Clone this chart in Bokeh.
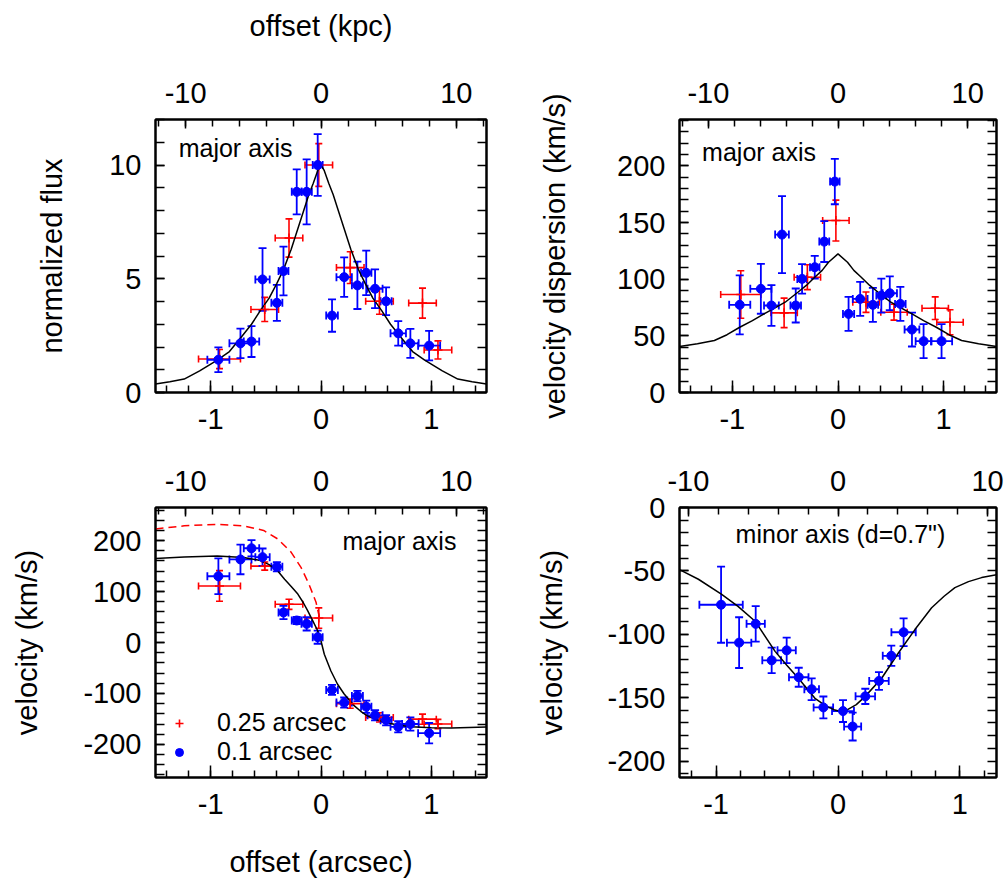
import numpy as np
from bokeh.plotting import figure
from bokeh.models import (Range1d, LinearAxis, SingleIntervalTicker, FixedTicker, Whisker,
                          TeeHead, ColumnDataSource, Label, Legend, LegendItem,
                          PrintfTickFormatter)
from bokeh.layouts import column, row
from bokeh.embed import file_html
from bokeh.resources import INLINE

KPC_PER_ARCSEC = 8.15
FONT = "Liberation Sans"
RED = "#ff0000"
BLUE = "#0000ff"

# ---------------- shared slit positions (arcsec) ----------------
blue_x = [-0.93, -0.73, -0.63, -0.53, -0.40, -0.34, -0.22, -0.13, -0.03,
          0.10, 0.21, 0.33, 0.41, 0.49, 0.59, 0.70, 0.81, 0.98]
blue_xerr = [0.1, 0.1, 0.07, 0.065, 0.05, 0.045, 0.045, 0.047, 0.045,
             0.053, 0.07, 0.05, 0.047, 0.068, 0.05, 0.07, 0.075, 0.1]
red_x = [-0.92, -0.51, -0.29, -0.02, 0.265, 0.53, 0.92, 1.06]
red_xerr = [0.19, 0.125, 0.125, 0.125, 0.125, 0.125, 0.125, 0.125]

# ---------------- panel 1: normalized flux ----------------
flux_blue = [1.44, 2.16, 2.24, 4.97, 3.94, 5.34, 8.82, 8.82, 10.0,
             3.38, 5.07, 4.71, 5.26, 4.56, 4.01, 2.6, 2.16, 2.06]
flux_blue_err = [0.54, 0.65, 0.68, 1.38, 0.79, 1.07, 0.99, 1.43, 1.36,
                 0.71, 0.87, 1.04, 0.98, 0.85, 0.61, 0.54, 0.64, 0.65]
flux_red = [1.47, 3.65, 6.79, 10.0, 5.49, 4.01, 3.93, 1.87]
flux_red_err = [0.42, 0.53, 0.84, 0.94, 0.7, 0.57, 0.66, 0.4]
flux_model_x = [-1.5, -1.37, -1.24, -1.1, -0.94, -0.83, -0.72, -0.63, -0.55, -0.47, -0.4,
                -0.34, -0.27, -0.21, -0.15, -0.11, -0.07, -0.03, 0.0, 0.03, 0.07, 0.11,
                0.15, 0.21, 0.27, 0.34, 0.4, 0.47, 0.55, 0.63, 0.72, 0.83, 0.94, 1.1,
                1.24, 1.37, 1.5]
flux_model_y = [0.37, 0.47, 0.59, 0.95, 1.42, 1.8, 2.45, 3.0, 3.6, 4.15, 4.8,
                5.4, 6.3, 7.2, 8.1, 8.7, 9.2, 9.75, 10.0, 9.75, 9.2, 8.7,
                8.1, 7.2, 6.3, 5.4, 4.8, 4.15, 3.6, 3.0, 2.45, 1.8, 1.42, 0.95,
                0.59, 0.47, 0.37]

# ---------------- panel 2: velocity dispersion ----------------
disp_blue = [77.4, 91.5, 76.8, 139.4, 76.8, 100.3, 110.6, 133.2, 186.2,
             69.4, 82.6, 77.4, 85.6, 87.6, 78.2, 55.6, 45.3, 45.3]
disp_blue_err = [26, 22, 18, 34, 15, 13, 10, 18, 20,
                 15, 15, 15, 15, 15, 15, 15, 15, 15]
disp_red = [86.5, 70.3, 101.8, 151.8, 79.7, 70.9, 74.4, 62]
disp_red_err = [21, 13, 11, 18, 9, 7, 10, 11]
disp_model_x = [-1.5, -1.33, -1.17, -1.05, -0.93, -0.81, -0.7, -0.6, -0.5, -0.38, -0.3,
                -0.22, -0.15, -0.09, 0.0, 0.09, 0.15, 0.22, 0.3, 0.38, 0.5, 0.6, 0.7,
                0.81, 0.93, 1.05, 1.17, 1.33, 1.5]
disp_model_y = [40.6, 43.0, 45.9, 51.0, 57.6, 63.5, 69.4, 74.5, 79.7, 88.5, 94.5,
                101.8, 107.8, 115, 122.4, 115, 107.8, 101.8, 94.5, 88.5, 79.7, 74.5, 69.4,
                63.5, 57.6, 51.0, 45.9, 43.0, 40.6]

# ---------------- panel 3: velocity, major axis ----------------
vel_blue = [130, 163, 185, 167.5, 148.6, 59, 43.2, 36.6, 10.5,
            -93, -118, -105, -126, -143, -152.5, -165.6, -160, -178]
vel_blue_err = [35, 29, 16, 17, 9, 13, 7, 13, 13, 10, 10, 10, 12, 10, 10, 11, 13, 20]
vel_red = [111, 150, 75, 48, -120, -147, -150.5, -160]
vel_red_err = [30, 8, 10, 20, 9, 9, 10, 9]
vel_model_x = [-1.5, -1.24, -0.94, -0.7, -0.55, -0.47, -0.39, -0.33, -0.27, -0.21, -0.16,
               -0.12, -0.08, -0.03, 0.0, 0.03, 0.09, 0.15, 0.21, 0.3, 0.36, 0.42, 0.5,
               0.58, 0.7, 0.82, 1.0, 1.18, 1.5]
vel_model_y = [165, 168, 170, 167, 161, 153, 140, 124, 110, 95, 78,
               62, 45, 23, 3, -23, -56, -82, -101, -124, -135, -144, -151,
               -157, -162, -165.6, -167.5, -168, -166]
vel_intr_x = [-1.5, -1.24, -0.94, -0.7, -0.52, -0.39, -0.27, -0.18, -0.11, -0.045, -0.015]
vel_intr_y = [223, 229, 232, 229, 220, 203, 177, 147, 115, 79, 50]

# ---------------- panel 4: velocity, minor axis ----------------
min_x = [-0.959, -0.811, -0.675, -0.544, -0.421, -0.322, -0.216, -0.12, 0.041,
         0.12, 0.224, 0.336, 0.437, 0.538]
min_xerr = [0.178, 0.1, 0.075, 0.077, 0.075, 0.08, 0.06, 0.08, 0.09,
            0.07, 0.08, 0.08, 0.07, 0.1]
min_v = [-76.7, -106.6, -91.8, -120.6, -112.7, -133.9, -143.4, -157.7, -160.6,
         -172.8, -149, -136.8, -117, -98.4]
min_v_err = [30, 20, 14, 10, 10, 7.5, 8.6, 8.6, 8.6, 11, 6, 7, 8, 11]
min_model_x = [-1.3, -1.145, -0.954, -0.82, -0.68, -0.516, -0.42, -0.325, -0.189, -0.1,
               -0.025, 0.02, 0.071, 0.15, 0.221, 0.358, 0.495, 0.631, 0.768, 0.87,
               0.959, 1.07, 1.178, 1.3]
min_model_y = [-49.0, -56.6, -68.5, -78.0, -89.7, -113.5, -124.5, -134.7, -150.5, -156.5,
               -159.8, -161, -159.8, -155.5, -149.2, -134.7, -114.8, -96.3, -79.1, -70.0,
               -63.2, -58.5, -55.3, -53.0]


def style_axis(ax, interval, tick_in=9, minor_in=9, labels=True, standoff=12):
    if labels:
        ax.ticker = SingleIntervalTicker(interval=interval, num_minor_ticks=5)
        ax.formatter = PrintfTickFormatter(format="%d")
        ax.major_label_text_font_size = "29px"
        ax.major_label_standoff = standoff
    ax.major_tick_in = tick_in
    ax.major_tick_out = 0
    ax.minor_tick_in = minor_in
    ax.minor_tick_out = 0
    ax.axis_line_width = 2
    ax.axis_line_color = "black"
    ax.major_tick_line_width = 1.5
    ax.minor_tick_line_width = 1.5
    ax.major_tick_line_color = "black"
    ax.minor_tick_line_color = "black"
    ax.major_label_text_font = FONT
    ax.major_label_text_color = "black"
    ax.axis_label_text_font = FONT
    ax.axis_label_text_font_style = "normal"
    ax.axis_label_text_font_size = "29px"
    ax.axis_label_text_color = "black"


def build(xr, yr, y_int, y_minor, frame_w, frame_h, borders, ylabel, top_standoff,
          bottom_standoff, xlabel=None, toplabel=None, ylab_standoff=37):
    bl, br, bt, bb = borders
    p = figure(frame_width=frame_w, frame_height=frame_h,
               x_range=Range1d(*xr), y_range=Range1d(*yr),
               output_backend="svg", toolbar_location=None,
               min_border_left=bl, min_border_right=br,
               min_border_top=bt, min_border_bottom=bb)
    p.extra_x_ranges = {"kpc": Range1d(xr[0] * KPC_PER_ARCSEC, xr[1] * KPC_PER_ARCSEC)}
    p.xgrid.visible = False
    p.ygrid.visible = False
    p.outline_line_color = "black"
    p.outline_line_width = 2
    p.background_fill_color = None
    p.border_fill_color = None
    bottom = p.xaxis[0]
    left = p.yaxis[0]
    top = LinearAxis(x_range_name="kpc")
    p.add_layout(top, "above")
    right_ticks = np.arange(np.ceil(yr[0] / y_minor) * y_minor, yr[1] + 1e-9, y_minor)
    right = LinearAxis(ticker=FixedTicker(ticks=[], minor_ticks=right_ticks.tolist()))
    p.add_layout(right, "right")
    style_axis(bottom, 1, tick_in=12, minor_in=7, standoff=bottom_standoff)
    style_axis(top, 10, tick_in=9, minor_in=7, standoff=top_standoff)
    style_axis(left, y_int, standoff=14)
    style_axis(right, y_int, labels=False)
    left.axis_label = ylabel
    left.axis_label_standoff = ylab_standoff
    if xlabel:
        bottom.axis_label = xlabel
        bottom.axis_label_standoff = 29
    if toplabel:
        top.axis_label = toplabel
        top.axis_label_standoff = 38
    return p


def add_errors(p, x, y, xerr, yerr, color, lw, cap):
    x = np.array(x, float); y = np.array(y, float)
    xerr = np.array(xerr, float); yerr = np.array(yerr, float)
    src = ColumnDataSource(dict(x=x, y=y, xlo=x - xerr, xhi=x + xerr,
                                ylo=y - yerr, yhi=y + yerr))
    wy = Whisker(source=src, base="x", lower="ylo", upper="yhi", dimension="height",
                 line_color=color, line_width=lw,
                 lower_head=TeeHead(size=cap, line_color=color, line_width=lw),
                 upper_head=TeeHead(size=cap, line_color=color, line_width=lw))
    wx = Whisker(source=src, base="y", lower="xlo", upper="xhi", dimension="width",
                 line_color=color, line_width=lw,
                 lower_head=TeeHead(size=cap, line_color=color, line_width=lw),
                 upper_head=TeeHead(size=cap, line_color=color, line_width=lw))
    p.add_layout(wy)
    p.add_layout(wx)
    return src


def add_red(p, y, yerr):
    src = add_errors(p, red_x, y, red_xerr, yerr, RED, 1.6, 7)
    return p.scatter("x", "y", source=src, marker="cross", size=9,
                     line_color=RED, line_width=1.6)


def add_blue(p, x, y, xerr, yerr):
    src = add_errors(p, x, y, xerr, yerr, BLUE, 1.8, 8)
    return p.scatter("x", "y", source=src, marker="circle", size=9,
                     fill_color=BLUE, line_color=BLUE)


def label(p, x, y, text, align="left"):
    p.add_layout(Label(x=x, y=y, text=text, text_font=FONT, text_font_size="25px",
                       text_align=align, text_baseline="middle", text_color="black"))


# ---------------- panel 1 ----------------
p1 = build((-1.5, 1.5), (0, 12), 5, 1, 331, 273, (155, 13, 119, 58),
           "normalized flux", top_standoff=17, bottom_standoff=16,
           toplabel="offset (kpc)", ylab_standoff=38)
p1.line(flux_model_x, flux_model_y, line_color="black", line_width=1.5)
add_red(p1, flux_red, flux_red_err)
add_blue(p1, blue_x, flux_blue, blue_xerr, flux_blue_err)
label(p1, -1.29, 10.75, "major axis")

# ---------------- panel 2 ----------------
p2 = build((-1.5, 1.5), (0, 241), 50, 10, 317, 273, (180, 8, 119, 58),
           "velocity dispersion (km/s)", top_standoff=17, bottom_standoff=16,
           ylab_standoff=43)
p2.line(disp_model_x, disp_model_y, line_color="black", line_width=1.5)
add_red(p2, disp_red, disp_red_err)
add_blue(p2, blue_x, disp_blue, blue_xerr, disp_blue_err)
label(p2, -1.286, 212.5, "major axis")

# ---------------- panel 3 ----------------
p3 = build((-1.5, 1.5), (-265, 265), 100, 20, 331, 270, (155, 13, 57, 110),
           "velocity (km/s)", top_standoff=17, bottom_standoff=16,
           xlabel="offset (arcsec)", ylab_standoff=37)
p3.line(vel_model_x, vel_model_y, line_color="black", line_width=1.5)
p3.line(vel_intr_x, vel_intr_y, line_color=RED, line_width=1.5, line_dash="8 5")
r_red = add_red(p3, vel_red, vel_red_err)
r_blue = add_blue(p3, blue_x, vel_blue, blue_xerr, vel_blue_err)
label(p3, 1.227, 200, "major axis", align="right")
legend = Legend(items=[LegendItem(label="0.25 arcsec", renderers=[r_red]),
                       LegendItem(label="0.1 arcsec", renderers=[r_blue])],
                location=(14, 11), padding=0, margin=0, spacing=0,
                glyph_width=20, glyph_height=28, label_standoff=28,
                label_text_font=FONT, label_text_font_size="25px",
                label_text_color="black",
                background_fill_alpha=0, border_line_alpha=0)
p3.add_layout(legend)

# ---------------- panel 4 ----------------
p4 = build((-1.3, 1.3), (-213, 0), 50, 10, 317, 270, (180, 8, 57, 110),
           "velocity (km/s)", top_standoff=17, bottom_standoff=16,
           ylab_standoff=36)
p4.line(min_model_x, min_model_y, line_color="black", line_width=1.5)
add_blue(p4, min_x, min_v, min_xerr, min_v_err)
label(p4, 0.02, -20.6, "minor axis (d=0.7\")", align="center")

layout = column(row(p1, p2), row(p3, p4))
open("out.html", "w").write(file_html(layout, INLINE))
